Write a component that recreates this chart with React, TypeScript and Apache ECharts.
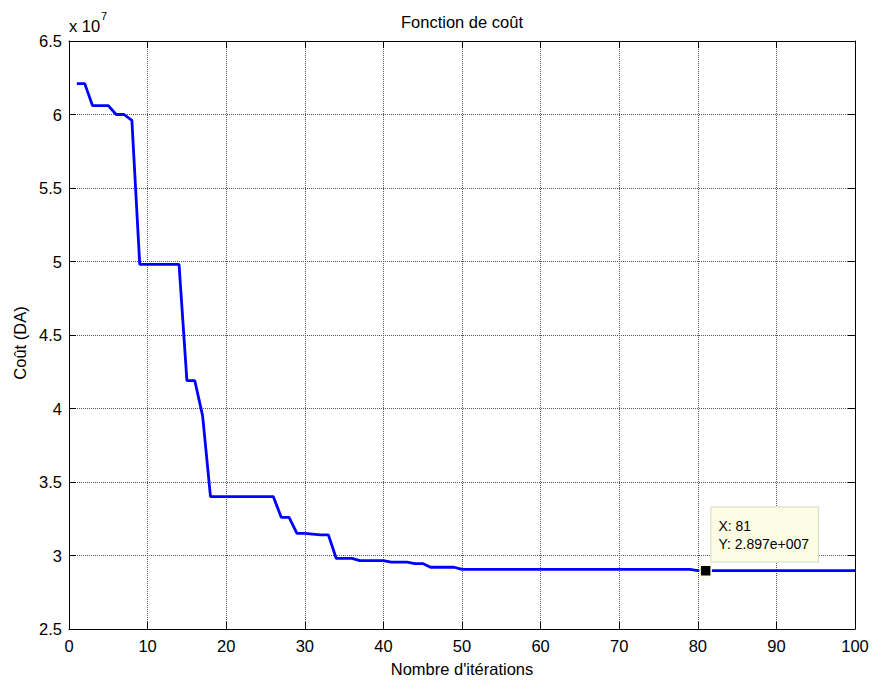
import React, { useEffect, useRef } from "react";
import * as echarts from "echarts";

// Iteration numbers (x axis)
const iterations: number[] = [
  1, 2, 3, 4, 5, 6, 7, 8, 9, 10,
  11, 12, 13, 14, 15, 16, 17, 18, 19, 20,
  21, 22, 23, 24, 25, 26, 27, 28, 29, 30,
  31, 32, 33, 34, 35, 36, 37, 38, 39, 40,
  41, 42, 43, 44, 45, 46, 47, 48, 49, 50,
  51, 52, 53, 54, 55, 56, 57, 58, 59, 60,
  61, 62, 63, 64, 65, 66, 67, 68, 69, 70,
  71, 72, 73, 74, 75, 76, 77, 78, 79, 80,
  81, 82, 83, 84, 85, 86, 87, 88, 89, 90,
  91, 92, 93, 94, 95, 96, 97, 98, 99, 100,
];

// Cost values, in units of 10^7 DA
const cost: number[] = [
  6.21, 6.21, 6.06, 6.06, 6.06, 6.0, 6.0, 5.96, 4.98, 4.98,
  4.98, 4.98, 4.98, 4.98, 4.19, 4.19, 3.95, 3.4, 3.4, 3.4,
  3.4, 3.4, 3.4, 3.4, 3.4, 3.4, 3.26, 3.26, 3.15, 3.15,
  3.145, 3.14, 3.14, 2.98, 2.98, 2.98, 2.965, 2.965, 2.965, 2.965,
  2.955, 2.955, 2.955, 2.945, 2.945, 2.92, 2.92, 2.92, 2.92, 2.905,
  2.905, 2.905, 2.905, 2.905, 2.905, 2.905, 2.905, 2.905, 2.905, 2.905,
  2.905, 2.905, 2.905, 2.905, 2.905, 2.905, 2.905, 2.905, 2.905, 2.905,
  2.905, 2.905, 2.905, 2.905, 2.905, 2.905, 2.905, 2.905, 2.905, 2.897,
  2.897, 2.897, 2.897, 2.897, 2.897, 2.897, 2.897, 2.897, 2.897, 2.897,
  2.897, 2.897, 2.897, 2.897, 2.897, 2.897, 2.897, 2.897, 2.897, 2.897,
];

// Data tip
const tipX = 81;
const tipY = 2.897;
const tipText = ["X: 81", "Y: 2.897e+007"];

const xTicks = { min: 0, max: 100, interval: 10 };
const yTicks = { min: 2.5, max: 6.5, interval: 0.5 };

const titleText = "Fonction de coût";
const xName = "Nombre d'itérations";
const yName = "Coût (DA)";

const FONT = "'Liberation Sans', Arial, sans-serif";

export default function App() {
  const ref = useRef<HTMLDivElement>(null);

  useEffect(() => {
    if (!ref.current) return;
    const chart = echarts.init(ref.current, undefined, { renderer: "svg" });

    const axisLine = { show: true, onZero: false, lineStyle: { color: "#000", width: 1 } };
    const axisTick = { show: true, inside: true, length: 7, lineStyle: { color: "#000", width: 1 } };
    const splitLine = { show: true, lineStyle: { color: "#555", width: 1, type: [1, 1] as any } };
    const labelStyle = { color: "#000", fontSize: 16.5, fontFamily: FONT };

    chart.setOption({
      animation: false,
      backgroundColor: "#fff",
      grid: { left: 69, right: 19, top: 41, bottom: 54, containLabel: false },
      xAxis: [
        {
          type: "value",
          position: "bottom",
          ...xTicks,
          axisLine,
          axisTick,
          splitLine,
          axisLabel: { ...labelStyle, margin: 8, showMinLabel: true, showMaxLabel: true },
        },
        {
          type: "value",
          position: "top",
          ...xTicks,
          axisLine,
          axisTick,
          splitLine: { show: false },
          axisLabel: { show: false },
        },
      ],
      yAxis: [
        {
          type: "value",
          position: "left",
          ...yTicks,
          axisLine,
          axisTick,
          splitLine,
          axisLabel: { ...labelStyle, margin: 7, showMinLabel: true, showMaxLabel: true },
        },
        {
          type: "value",
          position: "right",
          ...yTicks,
          axisLine,
          axisTick,
          splitLine: { show: false },
          axisLabel: { show: false },
        },
      ],
      series: [
        {
          type: "line",
          xAxisIndex: 0,
          yAxisIndex: 0,
          data: iterations.map((it, i) => [it, cost[i]]),
          showSymbol: false,
          symbol: "none",
          lineStyle: { color: "#0000ff", width: 2.8 },
          markPoint: {
            symbol: "rect",
            symbolSize: 11,
            itemStyle: { color: "#000", borderColor: "#ffffe0", borderWidth: 1.5 },
            data: [
              {
                coord: [tipX, tipY],
                label: {
                  show: true,
                  position: [12, -57],
                  formatter: tipText.join("\n"),
                  color: "#000",
                  fontSize: 14,
                  fontFamily: FONT,
                  lineHeight: 18.5,
                  align: "left",
                  backgroundColor: "#fdfde6",
                  borderColor: "#d8d8c0",
                  borderWidth: 1,
                  padding: [9, 9, 8, 7],
                },
              },
            ],
          },
        },
      ],
      graphic: [
        {
          type: "text",
          x: 462,
          y: 22,
          style: {
            text: titleText,
            fill: "#000",
            font: `16.5px ${FONT}`,
            textAlign: "center",
            textVerticalAlign: "middle",
          },
        },
        {
          type: "text",
          x: 462,
          y: 669,
          style: {
            text: xName,
            fill: "#000",
            font: `16.5px ${FONT}`,
            textAlign: "center",
            textVerticalAlign: "middle",
          },
        },
        {
          type: "text",
          x: 20,
          y: 343,
          rotation: Math.PI / 2,
          style: {
            text: yName,
            fill: "#000",
            font: `16.5px ${FONT}`,
            textAlign: "center",
            textVerticalAlign: "middle",
          },
        },
        {
          type: "text",
          x: 69,
          y: 26,
          style: {
            text: "x 10",
            fill: "#000",
            font: `16.5px ${FONT}`,
            textAlign: "left",
            textVerticalAlign: "middle",
          },
        },
        {
          type: "text",
          x: 101,
          y: 16,
          style: {
            text: "7",
            fill: "#000",
            font: `11px ${FONT}`,
            textAlign: "left",
            textVerticalAlign: "middle",
          },
        },
      ],
    });

    return () => chart.dispose();
  }, []);

  return (
    <div
      ref={ref}
      style={{ position: "fixed", left: 0, top: 0, width: 874, height: 683, background: "#fff" }}
    />
  );
}
